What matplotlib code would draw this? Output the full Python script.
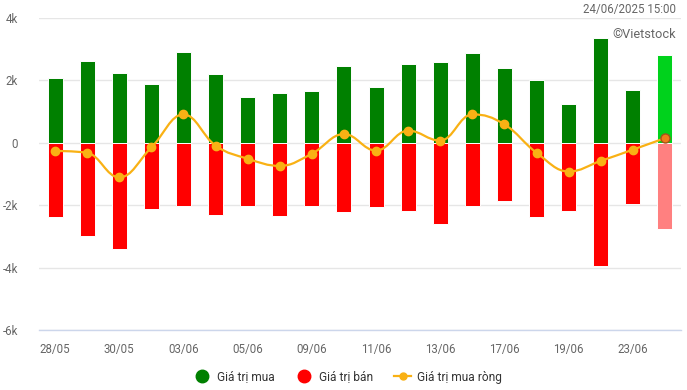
import numpy as np
import matplotlib
matplotlib.use("Agg")
import matplotlib.pyplot as plt
from matplotlib.path import Path
from matplotlib.patches import PathPatch
from matplotlib.lines import Line2D

plt.rcParams["font.family"] = ["Roboto", "DejaVu Sans"]

# data (billion VND)
dates = ["28/05", "29/05", "30/05", "02/06", "03/06", "04/06", "05/06", "06/06",
         "09/06", "10/06", "11/06", "12/06", "13/06", "16/06", "17/06", "18/06",
         "19/06", "20/06", "23/06", "24/06"]
buy = [2090, 2630, 2250, 1890, 2920, 2220, 1480, 1610, 1670, 2470,
       1800, 2530, 2600, 2890, 2400, 2020, 1250, 3370, 1680, 2820]
sell = [-2390, -3000, -3390, -2120, -2040, -2330, -2020, -2360, -2040, -2230,
        -2070, -2170, -2590, -2010, -1850, -2390, -2200, -3960, -1950, -2750]
net = [-260, -320, -1110, -150, 910, -90, -510, -740, -350, 280,
       -250, 390, 70, 910, 590, -320, -920, -580, -220, 150]
yticks = [-6000, -4000, -2000, 0, 2000, 4000]
ytick_labels = ["-6k", "-4k", "-2k", "0", "2k", "4k"]
shown_dates = dates[::2]


def spline_path(xs, ys, smoothing=1.5):
    """Highcharts-like spline through the points, as a bezier Path."""
    denom = smoothing + 1
    n = len(xs)
    lc = [None] * n
    rc = [None] * n
    for i in range(1, n - 1):
        x, y = xs[i], ys[i]
        lx, ly = xs[i - 1], ys[i - 1]
        nx, ny = xs[i + 1], ys[i + 1]
        lcx = (smoothing * x + lx) / denom
        lcy = (smoothing * y + ly) / denom
        rcx = (smoothing * x + nx) / denom
        rcy = (smoothing * y + ny) / denom
        if rcx != lcx:
            corr = (rcy - lcy) * (rcx - x) / (rcx - lcx) + y - rcy
            lcy += corr
            rcy += corr
        if lcy > ly and lcy > y:
            lcy = max(ly, y)
            rcy = 2 * y - lcy
        elif lcy < ly and lcy < y:
            lcy = min(ly, y)
            rcy = 2 * y - lcy
        if rcy > ny and rcy > y:
            rcy = max(ny, y)
            lcy = 2 * y - rcy
        elif rcy < ny and rcy < y:
            rcy = min(ny, y)
            lcy = 2 * y - rcy
        lc[i] = (lcx, lcy)
        rc[i] = (rcx, rcy)
    verts = [(xs[0], ys[0])]
    codes = [Path.MOVETO]
    for i in range(1, n):
        c1 = rc[i - 1] if rc[i - 1] else (xs[i - 1], ys[i - 1])
        c2 = lc[i] if lc[i] else (xs[i], ys[i])
        verts += [c1, c2, (xs[i], ys[i])]
        codes += [Path.CURVE4] * 3
    return Path(verts, codes)


fig = plt.figure(figsize=(6.87, 3.90), dpi=100)
ax = fig.add_axes([39 / 687, 60 / 390, 642 / 687, 312 / 390])

x = np.arange(len(dates))
buy_colors = ["#008000"] * (len(x) - 1) + ["#00d21c"]
sell_colors = ["#ff0000"] * (len(x) - 1) + ["#ff8080"]
ax.bar(x, buy, width=0.47, color=buy_colors, edgecolor="white", linewidth=0.7, zorder=2)
ax.bar(x, sell, width=0.47, color=sell_colors, edgecolor="white", linewidth=0.7, zorder=2)

line_color = "#f9b114"
ax.add_patch(PathPatch(spline_path(list(x), net), facecolor="none",
                       edgecolor=line_color, linewidth=1.6, zorder=3))
ax.plot(x[:-1], net[:-1], linestyle="none", marker="o", markersize=6,
        color=line_color, zorder=4)
ax.plot(x[-1:], net[-1:], linestyle="none", marker="o", markersize=6.5,
        markerfacecolor="#ef7d1b", markeredgecolor="#a5521a", markeredgewidth=1, zorder=5)

ax.set_xlim(-0.5, len(x) - 0.5)
ax.set_ylim(-6000, 4000)
ax.set_yticks(yticks)
ax.set_yticklabels(ytick_labels)
ax.set_xticks(x[::2])
ax.set_xticklabels(shown_dates)
ax.tick_params(axis="both", length=0, labelsize=8.3, colors="#666666")
ax.tick_params(axis="y", pad=15)
ax.tick_params(axis="x", pad=9)
for lbl in ax.get_yticklabels():
    lbl.set_horizontalalignment("right")
ax.grid(axis="y", color="#e6e6e6", linewidth=1, zorder=0)
ax.set_axisbelow(True)
for side in ["top", "right", "left"]:
    ax.spines[side].set_visible(False)
ax.spines["bottom"].set_color("#ccd6eb")
ax.spines["bottom"].set_linewidth(1)

fig.text(676 / 687, 1 - 10 / 390, "24/06/2025 15:00", ha="right", va="center",
         fontsize=8.3, color="#666666")
fig.text(676 / 687, 1 - 34 / 390, "\u00a9Vietstock", ha="right", va="center",
         fontsize=9.2, color="#666666")

handles = [
    Line2D([], [], linestyle="none", marker="o", markersize=9, color="#008000"),
    Line2D([], [], linestyle="none", marker="o", markersize=9, color="#ff0000"),
    Line2D([], [], color=line_color, linewidth=1.6, marker="o", markersize=5),
]
fig.legend(handles, ["Giá trị mua", "Giá trị bán", "Giá trị mua ròng"],
           loc="center", bbox_to_anchor=(348 / 687, 1 - 377 / 390), ncol=3,
           frameon=False, fontsize=8.6, labelcolor="#333333",
           handlelength=1.4, handletextpad=0.5, columnspacing=1.8)

fig.savefig("out.png", dpi=100)
